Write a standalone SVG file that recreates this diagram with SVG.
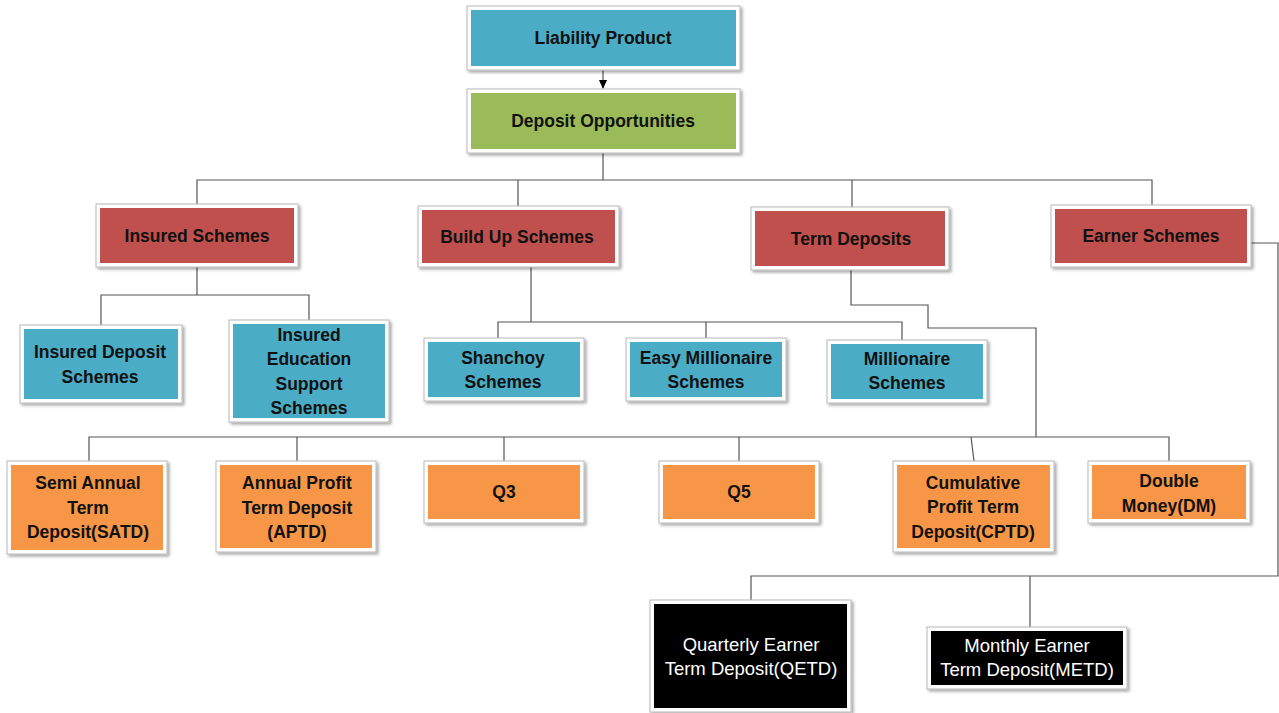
<svg xmlns="http://www.w3.org/2000/svg" width="1279" height="713" viewBox="0 0 1279 713">
<defs>
<filter id="sh" x="-10%" y="-10%" width="125%" height="130%">
<feDropShadow dx="2" dy="2" stdDeviation="1.5" flood-color="#000" flood-opacity="0.35"/>
</filter>
<marker id="arr" markerWidth="10" markerHeight="10" refX="8" refY="5" orient="auto" markerUnits="userSpaceOnUse">
<path d="M0,1 L9,5 L0,9 z" fill="#000"/>
</marker>
</defs>
<style>
.frame{fill:#fff;stroke:#b8b8b8;stroke-width:1;filter:url(#sh)}
.blue{fill:#4bacc6}
.green{fill:#9bbb59}
.red{fill:#c0504d}
.orange{fill:#f79646}
.black{fill:#000}
text{font-family:"Liberation Sans",Arial,sans-serif;font-weight:bold;font-size:17.5px;text-anchor:middle;fill:#111}
text.w{fill:#fff;font-weight:normal;font-size:18.5px}
.conn{fill:none;stroke:#555;stroke-width:1.2}
</style>
<rect width="1279" height="713" fill="#fff"/>
<g id="connectors">
<line class="conn" x1="603" y1="70" x2="603" y2="88" marker-end="url(#arr)"/>
<path class="conn" d="M603,153 V180 M197,204 V180 H1152 V205 M518,180 V206 M852,180 V207"/>
<path class="conn" d="M197,267 V295 M101,325 V295 H309 V320"/>
<path class="conn" d="M531,267 V322 M498,338 V322 H902 V340 M706,322 V338"/>
<path class="conn" d="M851,270 V305 H928 V328 H1036 V437 M89,461 V437 H1169 V461 M297,437 V461 M504,437 V461 M739,437 V461 M971,437 L974,461"/>
<path class="conn" d="M1251,243 H1278 V576 H751 V600 M1030,576 V627"/>
</g>
<g id="liability-product">
<rect class="frame" x="467" y="6" width="273" height="64"/>
<rect class="blue" x="471" y="10" width="265" height="56"/>
<text x="603" y="44">Liability Product</text>
</g>
<g id="deposit-opportunities">
<rect class="frame" x="467" y="89" width="273" height="64"/>
<rect class="green" x="471" y="93" width="265" height="56"/>
<text x="603" y="127">Deposit Opportunities</text>
</g>
<g id="insured-schemes">
<rect class="frame" x="96" y="204" width="202" height="63"/>
<rect class="red" x="100" y="208" width="194" height="55"/>
<text x="197" y="242">Insured Schemes</text>
</g>
<g id="build-up-schemes">
<rect class="frame" x="418" y="206" width="201" height="61"/>
<rect class="red" x="422" y="210" width="193" height="53"/>
<text x="517" y="243">Build Up Schemes</text>
</g>
<g id="term-deposits">
<rect class="frame" x="751" y="207" width="198" height="63"/>
<rect class="red" x="755" y="211" width="190" height="55"/>
<text x="851" y="245">Term Deposits</text>
</g>
<g id="earner-schemes">
<rect class="frame" x="1051" y="205" width="200" height="62"/>
<rect class="red" x="1055" y="209" width="192" height="54"/>
<text x="1151" y="242">Earner Schemes</text>
</g>
<g id="insured-deposit-schemes">
<rect class="frame" x="20" y="325" width="162" height="78"/>
<rect class="blue" x="24" y="329" width="154" height="70"/>
<text x="100" y="358">Insured Deposit</text>
<text x="100" y="383">Schemes</text>
</g>
<g id="insured-education-support-schemes">
<rect class="frame" x="229" y="320" width="160" height="102"/>
<rect class="blue" x="233" y="324" width="152" height="94"/>
<text x="309" y="341">Insured</text>
<text x="309" y="365">Education</text>
<text x="309" y="390">Support</text>
<text x="309" y="414">Schemes</text>
</g>
<g id="shanchoy-schemes">
<rect class="frame" x="424" y="338" width="160" height="63"/>
<rect class="blue" x="428" y="342" width="152" height="55"/>
<text x="503" y="364">Shanchoy</text>
<text x="503" y="388">Schemes</text>
</g>
<g id="easy-millionaire-schemes">
<rect class="frame" x="626" y="338" width="160" height="63"/>
<rect class="blue" x="630" y="342" width="152" height="55"/>
<text x="706" y="364">Easy Millionaire</text>
<text x="706" y="388">Schemes</text>
</g>
<g id="millionaire-schemes">
<rect class="frame" x="827" y="340" width="160" height="63"/>
<rect class="blue" x="831" y="344" width="152" height="55"/>
<text x="907" y="365">Millionaire</text>
<text x="907" y="389">Schemes</text>
</g>
<g id="satd">
<rect class="frame" x="7" y="461" width="160" height="93"/>
<rect class="orange" x="11" y="465" width="152" height="85"/>
<text x="88" y="489">Semi Annual</text>
<text x="88" y="514">Term</text>
<text x="88" y="538">Deposit(SATD)</text>
</g>
<g id="aptd">
<rect class="frame" x="216" y="461" width="160" height="91"/>
<rect class="orange" x="220" y="465" width="152" height="83"/>
<text x="297" y="489">Annual Profit</text>
<text x="297" y="514">Term Deposit</text>
<text x="297" y="538">(APTD)</text>
</g>
<g id="q3">
<rect class="frame" x="424" y="461" width="160" height="62"/>
<rect class="orange" x="428" y="465" width="152" height="54"/>
<text x="504" y="498">Q3</text>
</g>
<g id="q5">
<rect class="frame" x="659" y="461" width="160" height="62"/>
<rect class="orange" x="663" y="465" width="152" height="54"/>
<text x="739" y="498">Q5</text>
</g>
<g id="cptd">
<rect class="frame" x="893" y="461" width="161" height="91"/>
<rect class="orange" x="897" y="465" width="153" height="83"/>
<text x="973" y="489">Cumulative</text>
<text x="973" y="513">Profit Term</text>
<text x="973" y="538">Deposit(CPTD)</text>
</g>
<g id="double-money">
<rect class="frame" x="1088" y="461" width="162" height="62"/>
<rect class="orange" x="1092" y="465" width="154" height="54"/>
<text x="1169" y="487">Double</text>
<text x="1169" y="512">Money(DM)</text>
</g>
<g id="qetd">
<rect class="frame" x="650" y="600" width="201" height="112"/>
<rect class="black" x="654" y="604" width="193" height="104"/>
<text class="w" x="751" y="651">Quarterly Earner</text>
<text class="w" x="751" y="675">Term Deposit(QETD)</text>
</g>
<g id="metd">
<rect class="frame" x="927" y="627" width="200" height="62"/>
<rect class="black" x="931" y="631" width="192" height="54"/>
<text class="w" x="1027" y="652">Monthly Earner</text>
<text class="w" x="1027" y="676">Term Deposit(METD)</text>
</g>
</svg>
